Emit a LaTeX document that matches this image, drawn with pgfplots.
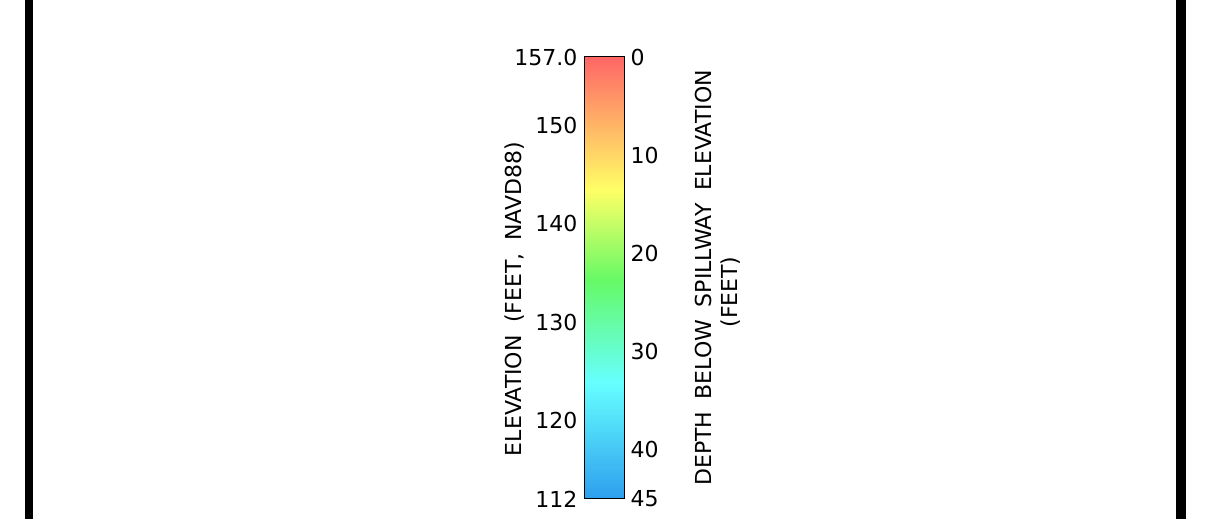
\documentclass[border=0pt]{standalone}
\usepackage{fontspec}
\setmainfont{DejaVu Sans}
\newfontfamily\labfont[WordSpace=1.8]{DejaVu Sans}
\usepackage{pgfplots}
\pgfplotsset{compat=1.18}
\pgfplotsset{
  colormap={elev}{rgb255(0pt)=(45,158,238) rgb255(118pt)=(102,255,255) rgb255(223pt)=(102,250,102) rgb255(315pt)=(255,255,102) rgb255(450pt)=(255,102,102)}
}
\begin{document}
\begin{tikzpicture}
\useasboundingbox (0pt,0pt) rectangle (1210pt,519pt);
\begin{axis}[at={(0pt,0pt)}, anchor=south west, scale only axis,
  width=1210pt, height=519pt, xmin=0, xmax=1210, ymin=0, ymax=519,
  hide axis, clip=true]
\addplot[black, line width=8pt] coordinates {(29,0) (29,519)};
\addplot[black, line width=10pt] coordinates {(1181,0) (1181,519)};
\node[rotate=90, font=\labfont\fontsize{22}{26}\selectfont] at (axis cs:515,220) {ELEVATION (FEET, NAVD88)};
\node[rotate=90, font=\labfont\fontsize{22}{26}\selectfont] at (axis cs:703,241) {DEPTH BELOW SPILLWAY ELEVATION};
\node[rotate=90, font=\labfont\fontsize{22}{26}\selectfont] at (axis cs:731,227) {(FEET)};
\end{axis}
\begin{axis}[at={(584pt,20pt)}, anchor=south west, scale only axis,
  width=40pt, height=442pt, xmin=0, xmax=1, ymin=112, ymax=157,
  xtick=\empty, ytick={112,120,130,140,150,157},
  yticklabels={112,120,130,140,150,157.0},
  major tick length=0pt, ytick pos=left,
  yticklabel style={font=\labfont\fontsize{22}{26}\selectfont, xshift=-3pt},
  axis line style={black, line width=1pt},
  colormap name=elev, point meta min=112, point meta max=157, axis on top]
\addplot[surf, shader=interp, mesh/cols=2, point meta=y] coordinates {
(0,112) (1,112)
(0,123.8) (1,123.8)
(0,134.3) (1,134.3)
(0,143.5) (1,143.5)
(0,157) (1,157)
};
\end{axis}
\begin{axis}[at={(584pt,20pt)}, anchor=south west, scale only axis,
  width=40pt, height=442pt, xmin=0, xmax=1, ymin=0, ymax=45, y dir=reverse,
  hide x axis, axis y line*=right, y axis line style={draw=none},
  ytick={0,10,20,30,40,45}, major tick length=0pt,
  yticklabel style={font=\labfont\fontsize{22}{26}\selectfont, xshift=3pt},
  /pgf/number format/assume math mode=true]
\addplot[draw=none] coordinates {(0,0) (1,45)};
\end{axis}
\end{tikzpicture}
\end{document}
